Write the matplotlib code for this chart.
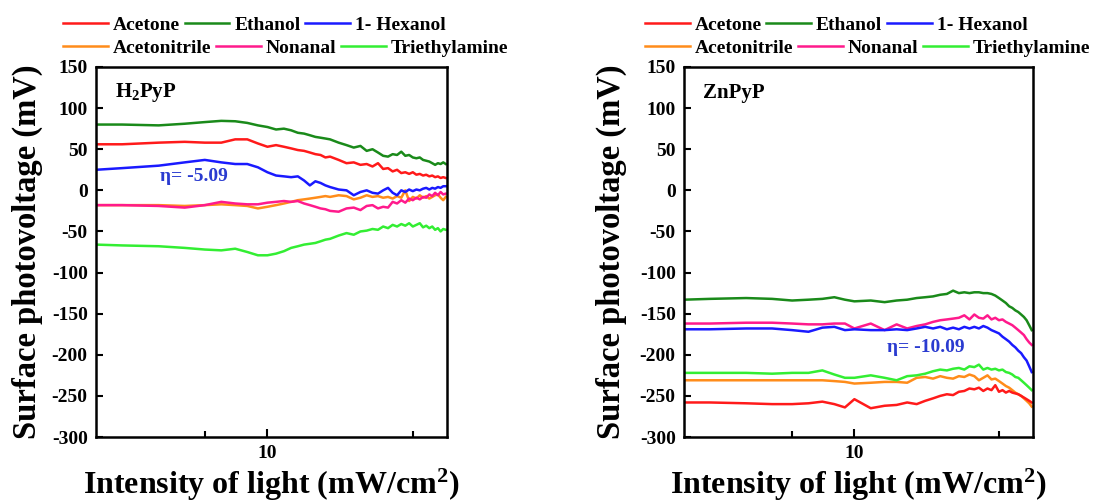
import matplotlib
matplotlib.use("Agg")
import matplotlib.pyplot as plt
from matplotlib.lines import Line2D
from matplotlib.ticker import FixedLocator, NullFormatter

plt.rcParams["font.family"] = ["Liberation Serif", "DejaVu Serif"]
plt.rcParams["font.weight"] = "bold"
plt.rcParams["axes.labelweight"] = "bold"
plt.rcParams["axes.unicode_minus"] = False
plt.rcParams["mathtext.fontset"] = "custom"
plt.rcParams["mathtext.rm"] = "Liberation Serif:bold"
plt.rcParams["mathtext.bf"] = "Liberation Serif:bold"
plt.rcParams["mathtext.it"] = "Liberation Serif:bold:italic"

# light intensity (mW/cm2), shared by all curves
intensity = [1.5, 2, 3, 4, 5, 6, 7, 8, 9, 10, 11, 12, 13, 14, 15, 16, 17, 18, 19, 20,
             22, 24, 26, 28, 30, 32, 34, 36, 38, 40, 42, 44, 46, 48, 50, 52, 54, 56,
             58, 60, 62, 64, 66, 68, 70, 72]
intensity_zn = [1.5, 2, 3, 4, 5, 6, 7, 8, 9, 10, 12, 14, 16, 18, 20, 22, 24, 26, 28,
                30, 32, 34, 36, 38, 40, 42, 44, 46, 48, 50, 52, 54, 56, 58, 60, 62, 64,
                66, 68, 70, 72]

names = ["Acetone", "Ethanol", "1- Hexanol", "Acetonitrile", "Nonanal", "Triethylamine"]
colors = ["#ff1a1a", "#1a8a1a", "#1a1aff", "#ff8c1a", "#ff1a8c", "#33ee33"]

# H2PyP (mV)
h2_acetone = [56, 56, 58, 59, 58, 58, 62, 62, 57, 53, 55, 53, 51, 49, 48, 46, 44, 43, 40, 41,
              37, 33, 34, 31, 32, 29, 33, 26, 27, 23, 25, 21, 22, 20, 22, 19, 20, 18,
              19, 17, 18, 16, 17, 15, 16, 15]
h2_ethanol = [80, 80, 79, 81, 83, 84.5, 84, 82, 79, 77, 74, 75, 73, 70, 69, 67, 65, 64, 63, 62,
              58, 55, 52, 54, 48, 50, 46, 42, 41, 44, 43, 47, 42, 43, 40, 39, 40, 37,
              36, 35, 33, 31, 33, 32, 34, 32]
h2_hexanol = [25, 27, 30, 34, 37, 34, 32, 32, 28, 22, 18, 17, 16, 17, 12, 6, 11, 9, 6, 4,
              1, 0, -6, -2, 0, -3, -4, 0, 3, -3, -6, 0, -2, 1, -1, 1, 0, 2,
              3, 1, 3, 2, 4, 3, 5, 5]
h2_acetonitrile = [-18, -18, -18, -19, -18, -17, -18, -19, -22, -20, -18, -16, -14, -12, -11, -10,
                   -9, -8, -7, -8, -6, -7, -11, -9, -6, -8, -7, -9, -8, -10, -7, -9, 0, -13,
                   -8, -10, -6, -9, -7, -10, -8, -6, -5, -9, -12, -8]
h2_nonanal = [-18, -18, -19, -21, -18, -14, -16, -17, -17, -15, -14, -13, -14, -13, -16, -18,
              -20, -22, -23, -25, -26, -22, -21, -24, -19, -18, -22, -20, -21, -14, -16, -12,
              -15, -10, -12, -9, -11, -8, -9, -5, -7, -3, -6, -2, -5, -4]
h2_triethylamine = [-66, -67, -68, -70, -72, -73, -71, -75, -79, -79, -77, -74, -70, -68, -66,
                    -65, -64, -62, -60, -59, -55, -52, -54, -50, -49, -47, -48, -44, -46, -42,
                    -44, -41, -43, -40, -44, -42, -40, -45, -43, -46, -44, -48, -46, -50, -47, -48]

# ZnPyP (mV)
zn_acetone = [-258, -258, -259, -260, -260, -259, -257, -260, -264, -254, -265, -262, -261, -258,
              -260, -256, -253, -250, -248, -249, -245, -244, -241, -242, -240, -244, -241,
              -243, -237, -245, -243, -246, -244, -246, -247, -248, -250, -252, -254, -256, -258]
zn_ethanol = [-133, -132, -131, -132, -134, -133, -132, -130, -133, -135, -134, -136, -134, -133,
              -131, -130, -129, -127, -126, -122, -125, -124, -125, -124, -124, -125, -125,
              -126, -128, -131, -134, -137, -141, -143, -146, -148, -151, -154, -158, -164, -170]
zn_hexanol = [-169, -169, -168, -168, -170, -172, -167, -166, -170, -169, -170, -170, -169, -170,
              -168, -166, -168, -166, -169, -167, -169, -166, -168, -166, -168, -165, -167,
              -170, -172, -174, -178, -181, -184, -188, -191, -195, -198, -203, -207, -214, -221]
zn_acetonitrile = [-231, -231, -231, -231, -231, -231, -231, -232, -233, -235, -234, -233, -233,
                   -234, -228, -227, -229, -226, -228, -229, -226, -227, -224, -226, -231, -228,
                   -225, -230, -229, -232, -235, -238, -240, -243, -246, -248, -250, -253, -256,
                   -259, -263]
zn_nonanal = [-162, -162, -161, -161, -162, -163, -163, -162, -162, -168, -162, -170, -163, -168,
              -165, -163, -160, -158, -157, -156, -155, -152, -157, -151, -155, -156, -152,
              -157, -155, -158, -157, -160, -162, -164, -167, -170, -173, -176, -181, -185, -188]
zn_triethylamine = [-222, -222, -222, -223, -222, -222, -219, -224, -228, -228, -225, -228, -231,
                    -226, -225, -223, -220, -218, -219, -217, -216, -218, -214, -215, -212, -218,
                    -216, -218, -217, -219, -218, -221, -222, -224, -227, -228, -231, -234, -237,
                    -240, -243]

h2_series = [h2_acetone, h2_ethanol, h2_hexanol, h2_acetonitrile, h2_nonanal, h2_triethylamine]
zn_series = [zn_acetone, zn_ethanol, zn_hexanol, zn_acetonitrile, zn_nonanal, zn_triethylamine]
# drawing order so that the lines overlap as in the figure
draw_order = [3, 4, 5, 0, 2, 1]

fig = plt.figure(figsize=(10.94, 5.03), dpi=100)
ax1 = fig.add_axes([0.0878, 0.1312, 0.3208, 0.7356])
ax2 = fig.add_axes([0.6252, 0.1312, 0.3190, 0.7356])

panels = [
    (ax1, intensity, h2_series, r"H$_2$PyP", "\u03b7= -5.09", (0.182, 0.703), -0.151, -0.094),
    (ax2, intensity_zn, zn_series, "ZnPyP", "\u03b7= -10.09", (0.582, 0.243), -0.163, -0.112),
]

for ax, x, series, title, eta, eta_pos, ylab_x, leg_x in panels:
    for i in draw_order:
        ax.plot(x, series[i], color=colors[i], lw=1.8)
    ax.set_xscale("log")
    ax.set_xlim(1.5, 73)
    ax.set_ylim(-300, 150)
    ax.xaxis.set_major_locator(FixedLocator([10]))
    ax.xaxis.set_minor_locator(FixedLocator([5, 50]))
    ax.xaxis.set_minor_formatter(NullFormatter())
    ax.set_xticklabels(["10"])
    ax.set_yticks(range(-300, 151, 50))
    ax.tick_params(direction="in", labelsize=14, width=1.5, pad=6)
    ax.tick_params(axis="x", which="major", length=6)
    ax.tick_params(axis="x", which="minor", length=4, width=1.5, direction="in")
    ax.tick_params(axis="y", length=5)
    for sp in ax.spines.values():
        sp.set_linewidth(1.8)

    ax.set_xlabel(r"Intensity of light (mW/cm$^{2}$)", fontsize=23, labelpad=3)
    ax.set_ylabel("Surface photovoltage (mV)", fontsize=23.5)
    ax.yaxis.set_label_coords(ylab_x, 0.5)

    ax.text(0.054, 0.93, title, transform=ax.transAxes, fontsize=15, va="center", ha="left")
    ax.text(eta_pos[0], eta_pos[1], eta, transform=ax.transAxes, fontsize=14,
            color="#2a3bd0", va="center", ha="left")

    handles = [Line2D([], [], color=c, lw=1.8) for c in colors]
    leg_kw = dict(ncol=3, frameon=False, fontsize=14, handlelength=2.3, handletextpad=0.25,
                  columnspacing=0.25, borderpad=0, borderaxespad=0, loc="center left")
    leg1 = ax.legend(handles[:3], names[:3], bbox_to_anchor=(leg_x, 1.114), **leg_kw)
    ax.add_artist(leg1)
    ax.legend(handles[3:], names[3:], bbox_to_anchor=(leg_x, 1.051), **leg_kw)

fig.savefig("out.png", dpi=100)
